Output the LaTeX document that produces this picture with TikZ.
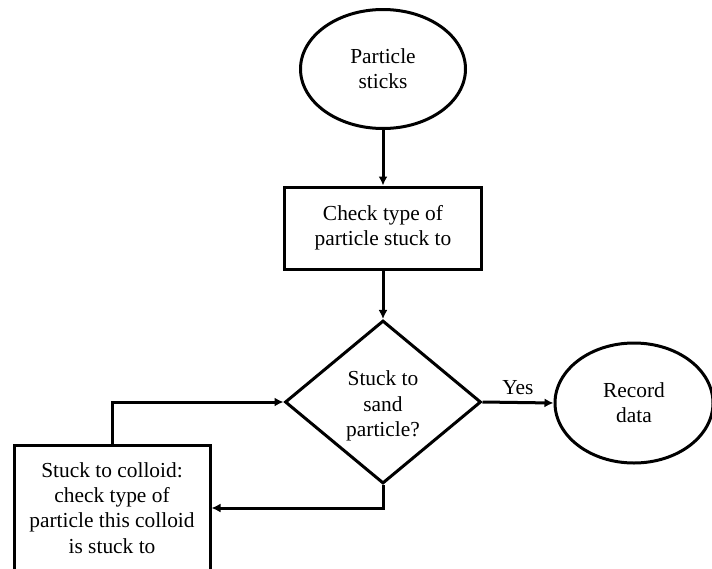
\documentclass[tikz,border=0pt]{standalone}
\usepackage{fontspec}
\setmainfont{Liberation Serif}
\usetikzlibrary{shapes.geometric,arrows.meta}

\begin{document}
\begin{tikzpicture}[x=0.5pt,y=-0.5pt,
	every node/.style={font=\fontsize{10.7pt}{12.6pt}\selectfont, align=center},
	box/.style={draw, line width=1.5pt, rectangle, inner sep=0pt},
	oval/.style={draw, line width=1.5pt, ellipse, inner sep=0pt},
	choice/.style={draw, line width=1.5pt, diamond, inner sep=0pt, minimum width=98pt, minimum height=81.5pt},
	flow/.style={line width=1.5pt, -{Latex[length=4.5pt,width=4.5pt]}}]
	% Parameters
	\def\midx{383}

	\useasboundingbox (0,0) rectangle (712,568);

	%blocks
	\node[oval, minimum width=82.5pt, minimum height=59.5pt] (stick) at (\midx,69) {Particle\\sticks};
	\node[box, minimum width=98.5pt, minimum height=41pt] (check) at (\midx,228) {Check type of\\particle stuck to};
	\node[choice] (sand) at (\midx,402) {};
	\node (sandtxt) at (\midx,406) {Stuck to\\sand\\particle?};
	\node[oval, minimum width=79pt, minimum height=60pt] (record) at (634,403) {Record\\data};
	\node[box, minimum width=98pt, minimum height=63pt] (colloid) at (112,508) {Stuck to colloid:\\check type of\\particle this colloid\\is stuck to};

	%links
	\draw[flow] (stick) -- (check);
	\draw[flow] (check) -- (sand);
	\draw[flow] (sand.east) -- node[above] (yes) {Yes} (record.west);
	\draw[flow] (sand.south) |- (colloid.east);
	\draw[flow] (colloid.north) |- (sand.west);
\end{tikzpicture}
\end{document}
